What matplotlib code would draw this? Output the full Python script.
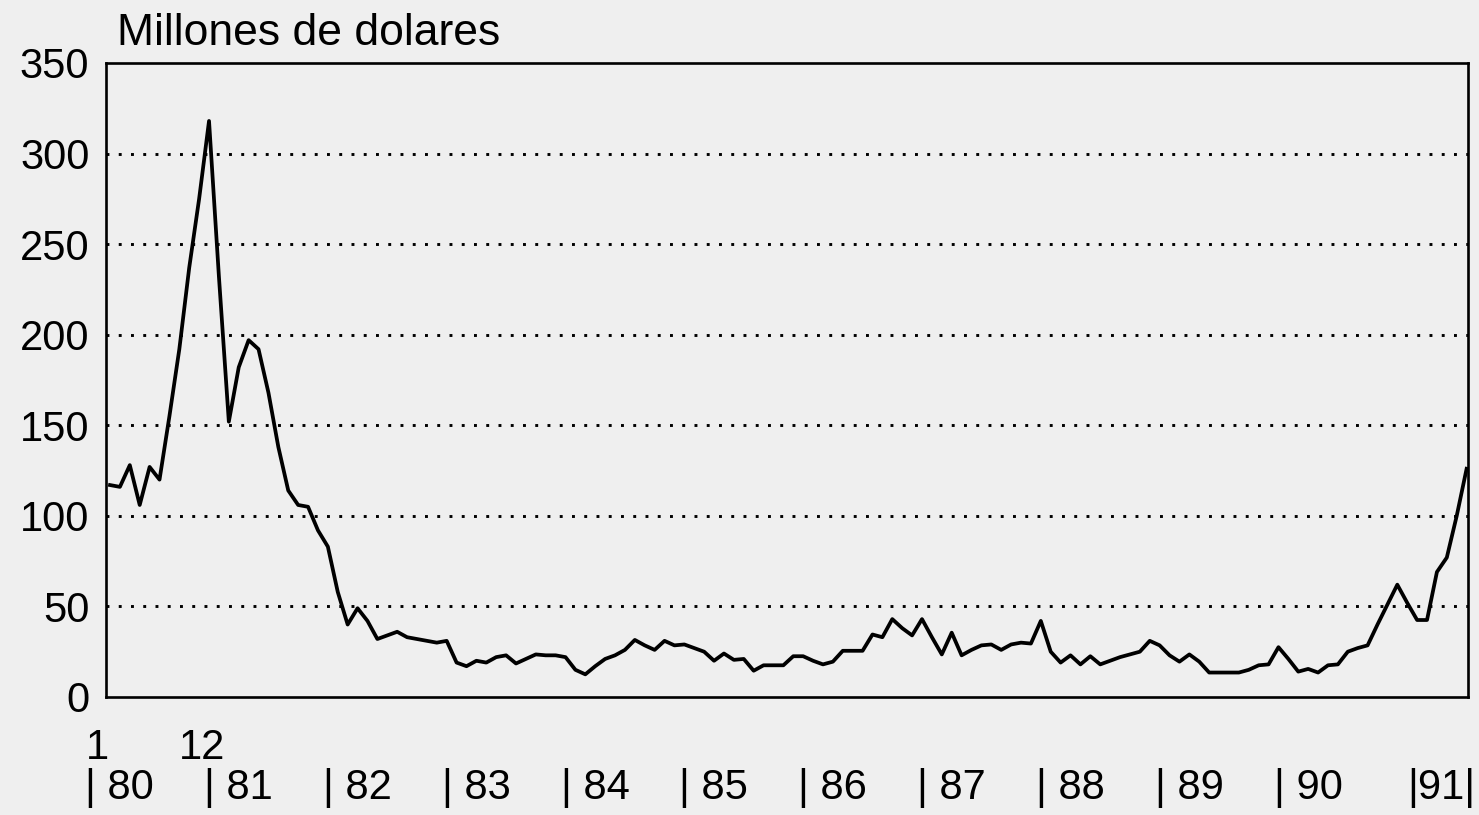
import numpy as np
import matplotlib
matplotlib.use("Agg")
import matplotlib.pyplot as plt

plt.rcParams['font.family'] = ['Liberation Sans', 'DejaVu Sans']

# monthly values, millones de dolares
v1980 = [117, 116, 128, 106, 127, 120, 155, 192, 237, 275, 318, 232]
v1981 = [152, 182, 197, 192, 168, 138, 114, 106, 105, 92, 83, 58]
v1982 = [40, 49, 42, 32, 34, 36, 33, 32, 31, 30, 31, 19]
v1983 = [17, 20, 19, 22, 23, 18.5, 21, 23.5, 23, 23, 22, 15]
v1984 = [12.5, 17, 21, 23, 26, 31.5, 28.5, 26, 31, 28.5, 29, 27]
v1985 = [25, 20, 24, 20.5, 21, 14.5, 17.5, 17.5, 17.5, 22.5, 22.5, 20]
v1986 = [18, 19.5, 25.5, 25.5, 25.5, 34.5, 33, 43, 38, 34, 43, 33]
v1987 = [23.5, 35.5, 23, 26, 28.5, 29, 26, 29, 30, 29.5, 42, 25]
v1988 = [19, 23, 18, 22.5, 18, 20, 22, 23.5, 25, 31, 28.5, 23]
v1989 = [19.5, 23.5, 19.5, 13.5, 13.5, 13.5, 13.5, 15, 17.5, 18, 27.5, 21]
v1990 = [14, 15.5, 13.5, 17.5, 18, 25, 27, 28.5, 40, 51, 62, 52]
v1991 = [42.5, 42.5, 69, 77, 100, 126]

years = ["80", "81", "82", "83", "84", "85", "86", "87", "88", "89", "90"]
yticks = [0, 50, 100, 150, 200, 250, 300, 350]

values = np.array(v1980 + v1981 + v1982 + v1983 + v1984 + v1985 +
                  v1986 + v1987 + v1988 + v1989 + v1990 + v1991)
months = np.arange(len(values))

paper = '#efefef'
fs = 30

fig = plt.figure(figsize=(14.79, 8.15), dpi=100, facecolor=paper)
ax = fig.add_axes([0.0717, 0.1448, 0.9206, 0.7779])
ax.set_facecolor(paper)

ax.plot(months, values, color='black', linewidth=2.7, solid_joinstyle='round')

ax.set_xlim(-0.4, months[-1] + 0.1)
ax.set_ylim(0, 350)
ax.set_yticks(yticks)
ax.set_yticklabels([str(t) for t in yticks], fontsize=fs)
ax.tick_params(axis='y', length=0, pad=12)
ax.set_xticks([])

for t in yticks[1:-1]:
    ax.axhline(t, color='black', linewidth=2.1, linestyle=(0, (1, 3.2)))

for s in ax.spines.values():
    s.set_linewidth(1.9)

xt = ax.get_xaxis_transform()
ax.text(-1.3, -0.080, "1", fontsize=fs, ha='center', va='center', transform=xt)
ax.text(9.3, -0.080, "12", fontsize=fs, ha='center', va='center', transform=xt)
for k, yr in enumerate(years):
    ax.text(12 * k - 2.5, -0.143, "| " + yr, fontsize=fs, ha='left', va='center',
            transform=xt, clip_on=False)
ax.text(131.0, -0.143, "|91|", fontsize=fs, ha='left', va='center', transform=xt)

fig.text(0.079, 0.945, "Millones de dolares", fontsize=32, ha='left', va='baseline')

fig.savefig("out.png", dpi=100, facecolor=paper)
